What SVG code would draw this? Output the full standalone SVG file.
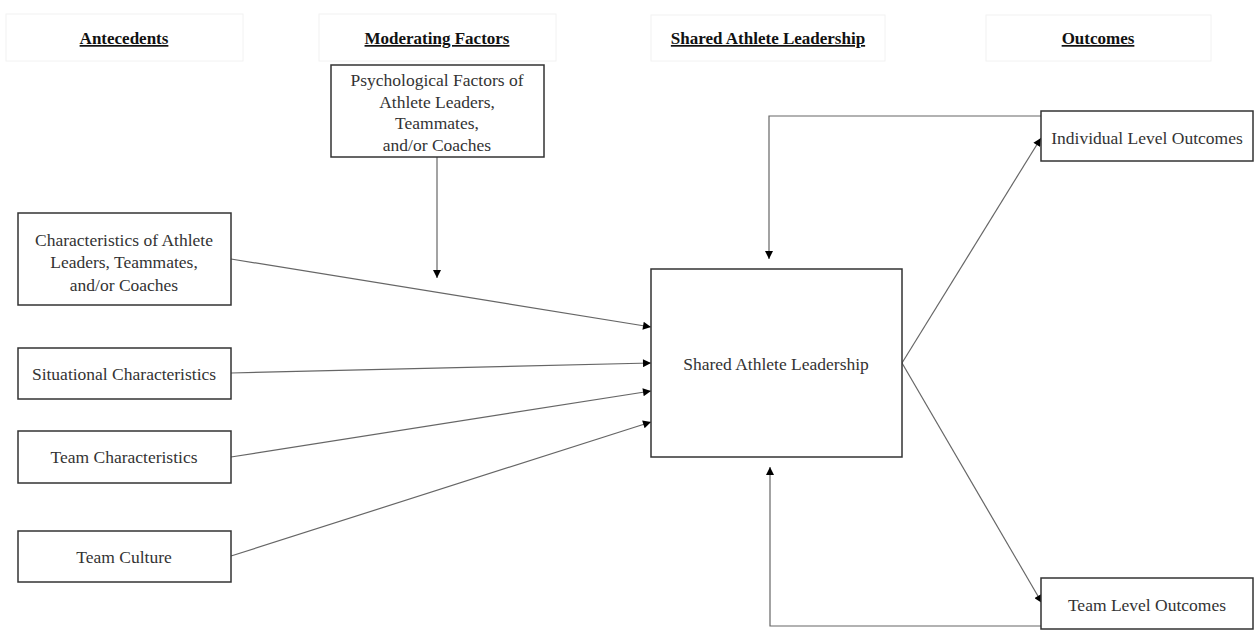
<svg xmlns="http://www.w3.org/2000/svg" width="1259" height="634" viewBox="0 0 1259 634">
<defs>
<marker id="ah" viewBox="0 0 10 10" refX="10" refY="5" markerWidth="9" markerHeight="8" markerUnits="userSpaceOnUse" orient="auto"><path d="M0,0 L10,5 L0,10 z" fill="#000"/></marker>
<style>
.hdr{fill:#fff;stroke:#f2f2f2;stroke-width:1}
.ht{font-family:"Liberation Serif",serif;font-size:17px;font-weight:bold;text-decoration:underline;fill:#111;text-anchor:middle}
.box{fill:#fff;stroke:#333;stroke-width:1.5}
.t{font-family:"Liberation Serif",serif;font-size:17.5px;fill:#333;text-anchor:middle}
.c{fill:none;stroke:#666;stroke-width:1.2;marker-end:url(#ah)}
</style>
</defs>
<rect width="1259" height="634" fill="#fff"/>
<g id="headers">
<rect class="hdr" x="6" y="14" width="237" height="47"/>
<text class="ht" x="124" y="44">Antecedents</text>
<rect class="hdr" x="319" y="14" width="237" height="47"/>
<text class="ht" x="437" y="44">Moderating Factors</text>
<rect class="hdr" x="651" y="15" width="234" height="46"/>
<text class="ht" x="768" y="44">Shared Athlete Leadership</text>
<rect class="hdr" x="986" y="15" width="225" height="46"/>
<text class="ht" x="1098" y="44">Outcomes</text>
</g>
<g id="connectors">
<path class="c" d="M437,157 L437,278"/>
<path class="c" d="M231,259 L651,327"/>
<path class="c" d="M231,373 L651,363"/>
<path class="c" d="M231,457 L651,391"/>
<path class="c" d="M231,556 L651,422"/>
<path class="c" d="M902,363 L1041,138"/>
<path class="c" d="M902,363 L1042,603"/>
<path class="c" d="M1041,116 L769,116 L769,259"/>
<path class="c" d="M1041,626 L770,626 L770,467"/>
</g>
<g id="psych">
<rect class="box" x="331" y="65" width="213" height="92"/>
<text class="t" x="437" y="86">Psychological Factors of</text>
<text class="t" x="437" y="107.5">Athlete Leaders,</text>
<text class="t" x="437" y="129">Teammates,</text>
<text class="t" x="437" y="150.5">and/or Coaches</text>
</g>
<g id="characteristics">
<rect class="box" x="18" y="213" width="213" height="92"/>
<text class="t" x="124" y="246">Characteristics of Athlete</text>
<text class="t" x="124" y="268">Leaders, Teammates,</text>
<text class="t" x="124" y="291">and/or Coaches</text>
</g>
<g id="situational">
<rect class="box" x="18" y="348" width="213" height="51"/>
<text class="t" x="124" y="380">Situational Characteristics</text>
</g>
<g id="teamchar">
<rect class="box" x="18" y="431" width="213" height="52"/>
<text class="t" x="124" y="463">Team Characteristics</text>
</g>
<g id="teamculture">
<rect class="box" x="18" y="531" width="213" height="51"/>
<text class="t" x="124" y="563">Team Culture</text>
</g>
<g id="shared">
<rect class="box" x="651" y="269" width="251" height="188"/>
<text class="t" x="776" y="370">Shared Athlete Leadership</text>
</g>
<g id="individual">
<rect class="box" x="1041" y="111" width="212" height="50"/>
<text class="t" x="1147" y="144">Individual Level Outcomes</text>
</g>
<g id="teamlevel">
<rect class="box" x="1041" y="578" width="212" height="51"/>
<text class="t" x="1147" y="611">Team Level Outcomes</text>
</g>
</svg>
